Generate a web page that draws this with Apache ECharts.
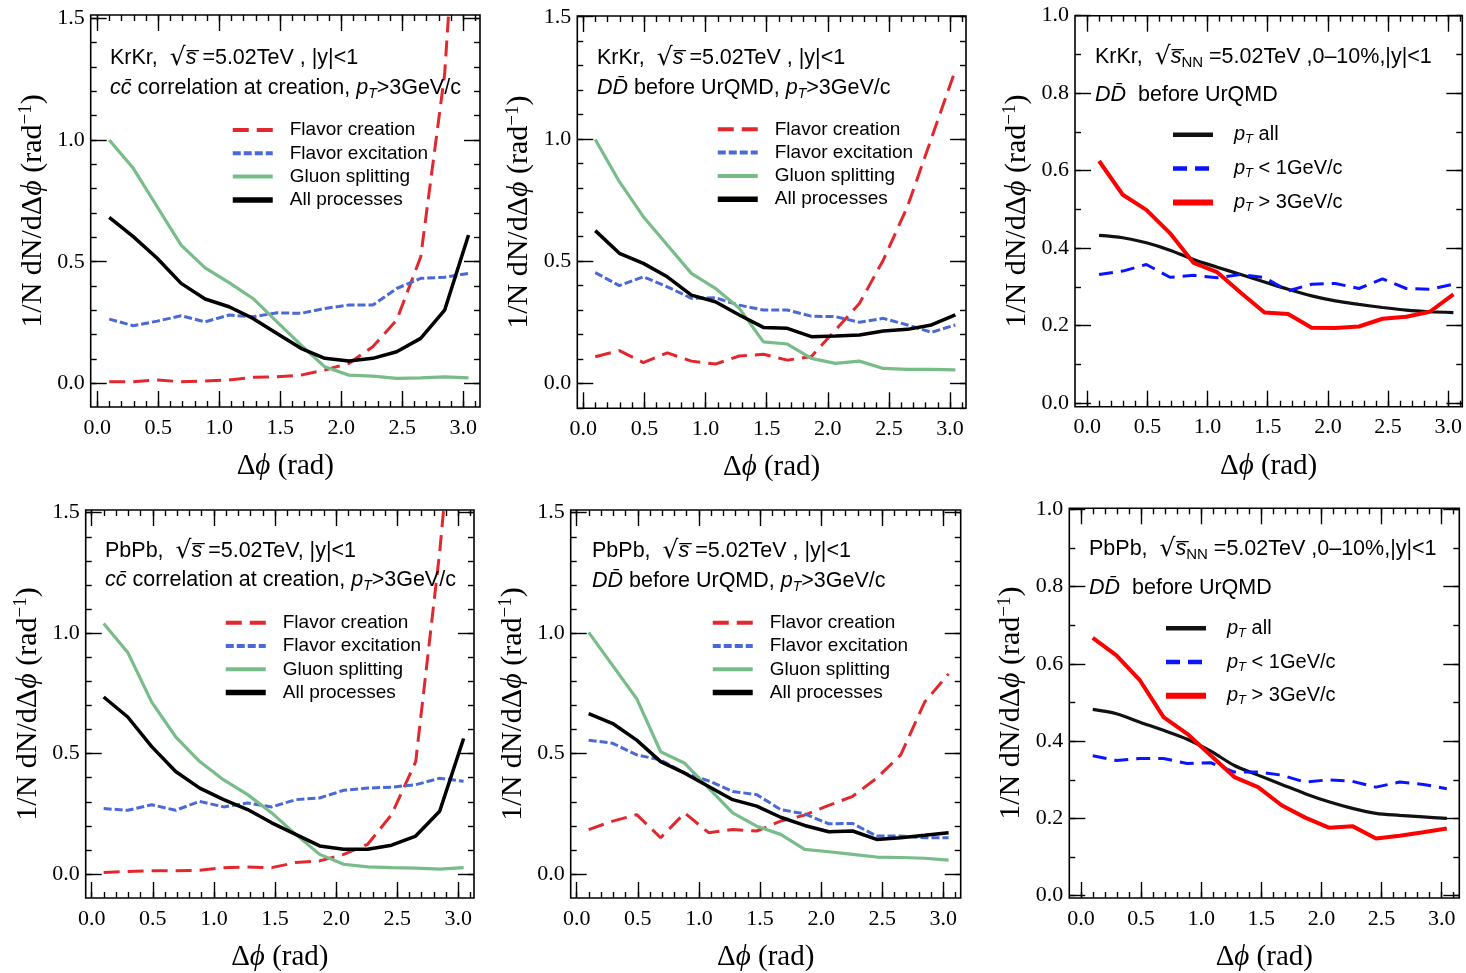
<!DOCTYPE html>
<html><head><meta charset="utf-8">
<script src="https://cdn.jsdelivr.net/npm/echarts@6/dist/echarts.min.js"></script>
<style>html,body{margin:0;padding:0;background:#fff}#c{width:1466px;height:973px}</style>
</head><body><div id="c"></div>
<script>
// ---------------- DATA ----------------
const dphi = [0.098,0.295,0.491,0.687,0.884,1.080,1.276,1.473,1.669,1.865,2.062,2.258,2.454,2.651,2.847,3.043];

// KrKr, c cbar correlation at creation, pT>3 GeV/c
const krCreFC  = [0.007,0.007,0.014,0.007,0.010,0.014,0.025,0.027,0.034,0.055,0.082,0.151,0.260,0.520,1.270,2.760];
const krCreFE  = [0.264,0.237,0.256,0.278,0.253,0.281,0.274,0.290,0.288,0.308,0.322,0.322,0.390,0.432,0.436,0.452];
const krCreGS  = [1.000,0.884,0.726,0.568,0.475,0.414,0.349,0.253,0.158,0.068,0.034,0.030,0.021,0.023,0.027,0.023];
const krCreAll = [0.682,0.603,0.514,0.411,0.347,0.315,0.267,0.205,0.144,0.103,0.092,0.103,0.130,0.185,0.301,0.610];

// KrKr, D Dbar before UrQMD, pT>3 GeV/c
const krDDFC  = [0.109,0.134,0.085,0.125,0.091,0.079,0.112,0.119,0.095,0.110,0.218,0.327,0.505,0.723,1.002,1.282];
const krDDFE  = [0.453,0.400,0.436,0.395,0.348,0.350,0.320,0.300,0.300,0.275,0.273,0.250,0.266,0.239,0.209,0.239];
const krDDGS  = [0.998,0.825,0.682,0.566,0.450,0.389,0.307,0.170,0.161,0.102,0.082,0.091,0.061,0.057,0.057,0.055];
const krDDAll = [0.625,0.532,0.491,0.436,0.361,0.334,0.280,0.229,0.225,0.191,0.194,0.198,0.214,0.221,0.239,0.280];

// KrKr 0-10%, D Dbar before UrQMD, pT bins
const krPtAll = [0.433,0.427,0.414,0.395,0.371,0.351,0.332,0.313,0.294,0.277,0.264,0.255,0.247,0.240,0.236,0.234];
const krPtLt1 = [0.332,0.341,0.358,0.325,0.330,0.324,0.332,0.324,0.290,0.307,0.309,0.296,0.321,0.296,0.294,0.307];
const krPtGt3 = [0.625,0.538,0.499,0.439,0.362,0.338,0.285,0.234,0.230,0.195,0.194,0.198,0.218,0.223,0.236,0.281];

// PbPb, c cbar correlation at creation, pT>3 GeV/c
const pbCreFC  = [0.007,0.011,0.014,0.014,0.016,0.027,0.030,0.027,0.048,0.055,0.082,0.124,0.247,0.467,1.335,2.410];
const pbCreFE  = [0.272,0.265,0.288,0.265,0.302,0.279,0.295,0.279,0.309,0.316,0.348,0.357,0.361,0.371,0.398,0.385];
const pbCreGS  = [1.040,0.920,0.714,0.570,0.467,0.391,0.330,0.254,0.165,0.082,0.041,0.030,0.027,0.025,0.021,0.027];
const pbCreAll = [0.735,0.652,0.529,0.426,0.357,0.309,0.268,0.213,0.165,0.117,0.103,0.103,0.120,0.158,0.261,0.563];

// PbPb, D Dbar before UrQMD, pT>3 GeV/c
const pbDDFC  = [0.185,0.220,0.247,0.151,0.254,0.172,0.185,0.179,0.220,0.245,0.285,0.323,0.398,0.495,0.714,0.831];
const pbDDFE  = [0.556,0.543,0.495,0.474,0.419,0.387,0.343,0.330,0.268,0.250,0.209,0.210,0.158,0.158,0.151,0.151];
const pbDDGS  = [1.003,0.865,0.728,0.508,0.460,0.357,0.254,0.199,0.165,0.103,0.093,0.082,0.071,0.069,0.066,0.058];
const pbDDAll = [0.666,0.625,0.556,0.467,0.419,0.364,0.309,0.282,0.236,0.202,0.176,0.179,0.144,0.151,0.161,0.172];

// PbPb 0-10%, D Dbar before UrQMD, pT bins
const pbPtAll = [0.482,0.471,0.449,0.428,0.405,0.374,0.337,0.312,0.288,0.264,0.243,0.226,0.213,0.208,0.204,0.200];
const pbPtLt1 = [0.362,0.350,0.355,0.355,0.342,0.344,0.320,0.320,0.312,0.294,0.300,0.296,0.281,0.294,0.288,0.277];
const pbPtGt3 = [0.667,0.622,0.557,0.462,0.419,0.363,0.307,0.281,0.234,0.202,0.176,0.180,0.148,0.155,0.164,0.174];

// tick labels
const xTickLabels  = [0.0,0.5,1.0,1.5,2.0,2.5,3.0];
const yTickLabelsA = [0.0,0.5,1.0,1.5];
const yTickLabelsB = [0.0,0.2,0.4,0.6,0.8,1.0];

// series names
const procNames = ['Flavor creation','Flavor excitation','Gluon splitting','All processes'];
const ptNames   = ['pT all','pT < 1GeV/c','pT > 3GeV/c'];

// ---------------- STYLE / LAYOUT ----------------
const SANS  = "'Liberation Sans', Arial, sans-serif";
const SERIF = "'Liberation Serif', 'Times New Roman', serif";
function steps(a, b, s) { const r = []; for (let k = Math.round(a/s); k <= Math.round(b/s); k++) r.push(+(k*s).toFixed(2)); return r; }
const xMinor  = steps(0, 3.1, 0.1);
const yMinorA = steps(-0.1, 1.5, 0.1);
const yMinorB = steps(0, 1.0, 0.1);

const panels = [
  {left:90.7,  top:15,    w:389.3, h:392,   xMin:-0.054, xMax:3.137, yMin:-0.097, yMax:1.514, kind:'A'},
  {left:577.3, top:16,    w:388.7, h:392.3, xMin:-0.049, xMax:3.130, yMin:-0.102, yMax:1.503, kind:'A'},
  {left:1075,  top:15.7,  w:387.3, h:391,   xMin:-0.102, xMax:3.117, yMin:-0.009, yMax:1.000, kind:'B'},
  {left:85.7,  top:510,   w:388.3, h:390.7, xMin:-0.049, xMax:3.128, yMin:-0.099, yMax:1.511, kind:'A'},
  {left:570.7, top:510,   w:390,   h:390.7, xMin:-0.049, xMax:3.142, yMin:-0.099, yMax:1.511, kind:'A'},
  {left:1069.3,top:508.3, w:390,   h:392.4, xMin:-0.097, xMax:3.147, yMin:-0.006, yMax:1.0026, kind:'B'}
];

const tickLine = {color:'#000', width:1.4};
const xNameRich = {
  n:{fontFamily:SERIF, fontSize:29, color:'#000'},
  i:{fontFamily:SERIF, fontSize:29, fontStyle:'italic', color:'#000'}
};
const yNameRich = {
  n:{fontFamily:SERIF, fontSize:30, color:'#000'},
  i:{fontFamily:SERIF, fontSize:30, fontStyle:'italic', color:'#000'},
  sup:{fontFamily:SERIF, fontSize:19, color:'#000', padding:[0,0,13,0]}
};

const grids = [], xAxes = [], yAxes = [];
panels.forEach((p, g) => {
  grids.push({left:p.left, top:p.top, width:p.w, height:p.h, show:true, borderColor:'#000', borderWidth:1.6, backgroundColor:'transparent', containLabel:false});
  const yMaj = p.kind === 'A' ? yTickLabelsA : yTickLabelsB;
  const yMin = p.kind === 'A' ? yMinorA : yMinorB;
  const bx = {type:'value', gridIndex:g, min:p.xMin, max:p.xMax, axisLine:{show:false, onZero:false}, splitLine:{show:false}};
  xAxes.push(
    Object.assign({}, bx, {position:'bottom',
      axisTick:{show:true, inside:true, length:16, customValues:xTickLabels, lineStyle:tickLine},
      axisLabel:{show:true, customValues:xTickLabels, formatter:v=>v.toFixed(1), fontFamily:SERIF, fontSize:22, color:'#000', margin:10},
      name:'{n|Δ}{i|ϕ}{n| (rad)}', nameLocation:'middle', nameGap:45, nameTextStyle:{rich:xNameRich, fontFamily:SERIF, fontSize:29}}),
    Object.assign({}, bx, {position:'bottom', axisTick:{show:true, inside:true, length:6, customValues:xMinor, lineStyle:tickLine}, axisLabel:{show:false}}),
    Object.assign({}, bx, {position:'top', axisTick:{show:true, inside:true, length:16, customValues:xTickLabels, lineStyle:tickLine}, axisLabel:{show:false}}),
    Object.assign({}, bx, {position:'top', axisTick:{show:true, inside:true, length:6, customValues:xMinor, lineStyle:tickLine}, axisLabel:{show:false}})
  );
  const by = {type:'value', gridIndex:g, min:p.yMin, max:p.yMax, axisLine:{show:false, onZero:false}, splitLine:{show:false}};
  yAxes.push(
    Object.assign({}, by, {position:'left',
      axisTick:{show:true, inside:true, length:16, customValues:yMaj, lineStyle:tickLine},
      axisLabel:{show:true, customValues:yMaj, formatter:v=>v.toFixed(1), fontFamily:SERIF, fontSize:22, color:'#000', margin:6},
      name:'{n|1/N dN/dΔ}{i|ϕ}{n| (rad}{sup|−1}{n|)}', nameLocation:'middle', nameGap:42, nameTextStyle:{rich:yNameRich, fontFamily:SERIF, fontSize:30}}),
    Object.assign({}, by, {position:'left', axisTick:{show:true, inside:true, length:6, customValues:yMin, lineStyle:tickLine}, axisLabel:{show:false}}),
    Object.assign({}, by, {position:'right', axisTick:{show:true, inside:true, length:16, customValues:yMaj, lineStyle:tickLine}, axisLabel:{show:false}}),
    Object.assign({}, by, {position:'right', axisTick:{show:true, inside:true, length:6, customValues:yMin, lineStyle:tickLine}, axisLabel:{show:false}})
  );
});

const C_RED = '#e2272d', C_BLUE = '#4a69d6', C_GREEN = '#78bc89', C_BLACK = '#000';
function mk(g, name, vals, color, width, type, z, smooth) {
  return {type:'line', name, xAxisIndex:4*g, yAxisIndex:4*g, data:dphi.map((x,i)=>[x, vals[i]]),
    symbol:'none', showSymbol:false, smooth:smooth||false, clip:true, silent:true, z:z,
    lineStyle:{color, width, type}, itemStyle:{color}};
}
function procSeries(g, fc, fe, gs, all) {
  return [
    mk(g, procNames[0], fc, C_RED, 3, [16,8], 3),
    mk(g, procNames[1], fe, C_BLUE, 3, [8,3], 4),
    mk(g, procNames[2], gs, C_GREEN, 3.2, 'solid', 5),
    mk(g, procNames[3], all, C_BLACK, 3.5, 'solid', 6)
  ];
}
function ptSeries(g, all, lt1, gt3) {
  return [
    mk(g, ptNames[0], all, '#111', 3.2, 'solid', 4, 0.3),
    mk(g, ptNames[1], lt1, '#0a14ff', 3, [14,8], 5),
    mk(g, ptNames[2], gt3, '#ff0000', 4, 'solid', 6)
  ];
}
const series = [].concat(
  procSeries(0, krCreFC, krCreFE, krCreGS, krCreAll),
  procSeries(1, krDDFC, krDDFE, krDDGS, krDDAll),
  ptSeries(2, krPtAll, krPtLt1, krPtGt3),
  procSeries(3, pbCreFC, pbCreFE, pbCreGS, pbCreAll),
  procSeries(4, pbDDFC, pbDDFE, pbDDGS, pbDDAll),
  ptSeries(5, pbPtAll, pbPtLt1, pbPtGt3)
);

// legends
const legRich = {
  gap:{width:12},
  gap2:{width:16},
  n:{fontFamily:SANS, fontSize:19, color:'#000', lineHeight:20},
  n2:{fontFamily:SANS, fontSize:20, color:'#000', lineHeight:20},
  i:{fontFamily:SANS, fontSize:20, fontStyle:'italic', color:'#000', lineHeight:20},
  s:{fontFamily:SANS, fontSize:13, fontStyle:'italic', color:'#000', lineHeight:10, padding:[10,0,0,0]}
};
const hiddenSymbol = {color:'rgba(0,0,0,0)', borderWidth:0, borderColor:'rgba(0,0,0,0)', opacity:0};
const ptLabel = {'pT all':'{i|p}{s|T}{n2| all}', 'pT < 1GeV/c':'{i|p}{s|T}{n2| < 1GeV/c}', 'pT > 3GeV/c':'{i|p}{s|T}{n2| > 3GeV/c}'};
function procLegend(left, top) {
  const w = [4, 4, 4, 5.5];
  return {left, top, orient:'vertical', padding:0, itemWidth:40, itemHeight:20, itemGap:3.3, selectedMode:false,
    itemStyle:hiddenSymbol,
    data: procNames.map((n,i)=>({name:n, itemStyle:hiddenSymbol, lineStyle:{width:w[i], opacity:1}})),
    formatter: n => '{gap|}{n|' + n + '}',
    textStyle:{fontFamily:SANS, fontSize:19, color:'#000', lineHeight:20, rich:legRich}};
}
function ptLegend(left, top, gap) {
  const w = [4.5, 4.5, 6];
  return {left, top, orient:'vertical', padding:0, itemWidth:40, itemHeight:20, itemGap:gap, selectedMode:false,
    itemStyle:hiddenSymbol,
    data: ptNames.map((n,i)=>({name:n, itemStyle:hiddenSymbol, lineStyle:{width:w[i], opacity:1}})),
    formatter: n => '{gap2|}' + ptLabel[n],
    textStyle:{fontFamily:SANS, fontSize:20, color:'#000', lineHeight:20, rich:legRich}};
}
const legends = [
  procLegend(230, 120), procLegend(715, 119.3), ptLegend(1170, 123.3, 10.8),
  procLegend(223, 612.7), procLegend(710, 612.7), ptLegend(1163, 616.7, 10.8)
];

// annotation texts
const annRich = {
  n:{fontFamily:SANS, fontSize:21.5, fill:'#000'},
  i:{fontFamily:SANS, fontSize:21.5, fontStyle:'italic', fill:'#000'},
  sq:{fontFamily:'DejaVu Sans', fontSize:25, fill:'#000'},
  sub:{fontFamily:SANS, fontSize:14, fontStyle:'italic', fill:'#000', lineHeight:12, padding:[12,0,0,0]},
  subn:{fontFamily:SANS, fontSize:15, fill:'#000', lineHeight:12, padding:[12,0,0,0]}
};
const annotations = [
  [110, 58,  '{n|KrKr,  }{sq|√}{i|s̅}{n| =5.02TeV , |y|<1}'],
  [110, 88,  '{i|cc̄}{n| correlation at creation, }{i|p}{sub|T}{n|>3GeV/c}'],
  [597, 58,  '{n|KrKr,  }{sq|√}{i|s̅}{n| =5.02TeV , |y|<1}'],
  [597, 88,  '{i|DD̄}{n| before UrQMD, }{i|p}{sub|T}{n|>3GeV/c}'],
  [1095, 57, '{n|KrKr,  }{sq|√}{i|s̅}{subn|NN}{n| =5.02TeV ,0–10%,|y|<1}'],
  [1095, 95, '{i|DD̄}{n|  before UrQMD}'],
  [105, 551, '{n|PbPb,  }{sq|√}{i|s̅}{n| =5.02TeV, |y|<1}'],
  [105, 580, '{i|cc̄}{n| correlation at creation, }{i|p}{sub|T}{n|>3GeV/c}'],
  [592, 551, '{n|PbPb,  }{sq|√}{i|s̅}{n| =5.02TeV , |y|<1}'],
  [592, 581, '{i|DD̄}{n| before UrQMD, }{i|p}{sub|T}{n|>3GeV/c}'],
  [1089, 549,'{n|PbPb,  }{sq|√}{i|s̅}{subn|NN}{n| =5.02TeV ,0–10%,|y|<1}'],
  [1089, 588,'{i|DD̄}{n|  before UrQMD}']
];
const graphic = annotations.map(a => ({type:'text', x:a[0], y:a[1], silent:true, z:10,
  style:{text:a[2], rich:annRich, fontFamily:SANS, fontSize:21.5, fill:'#000', align:'left', verticalAlign:'middle'}}));

const chart = echarts.init(document.getElementById('c'), null, {renderer:'canvas'});
chart.setOption({
  animation:false,
  backgroundColor:'#fff',
  grid:grids, xAxis:xAxes, yAxis:yAxes, series, legend:legends, graphic
});
</script></body></html>
